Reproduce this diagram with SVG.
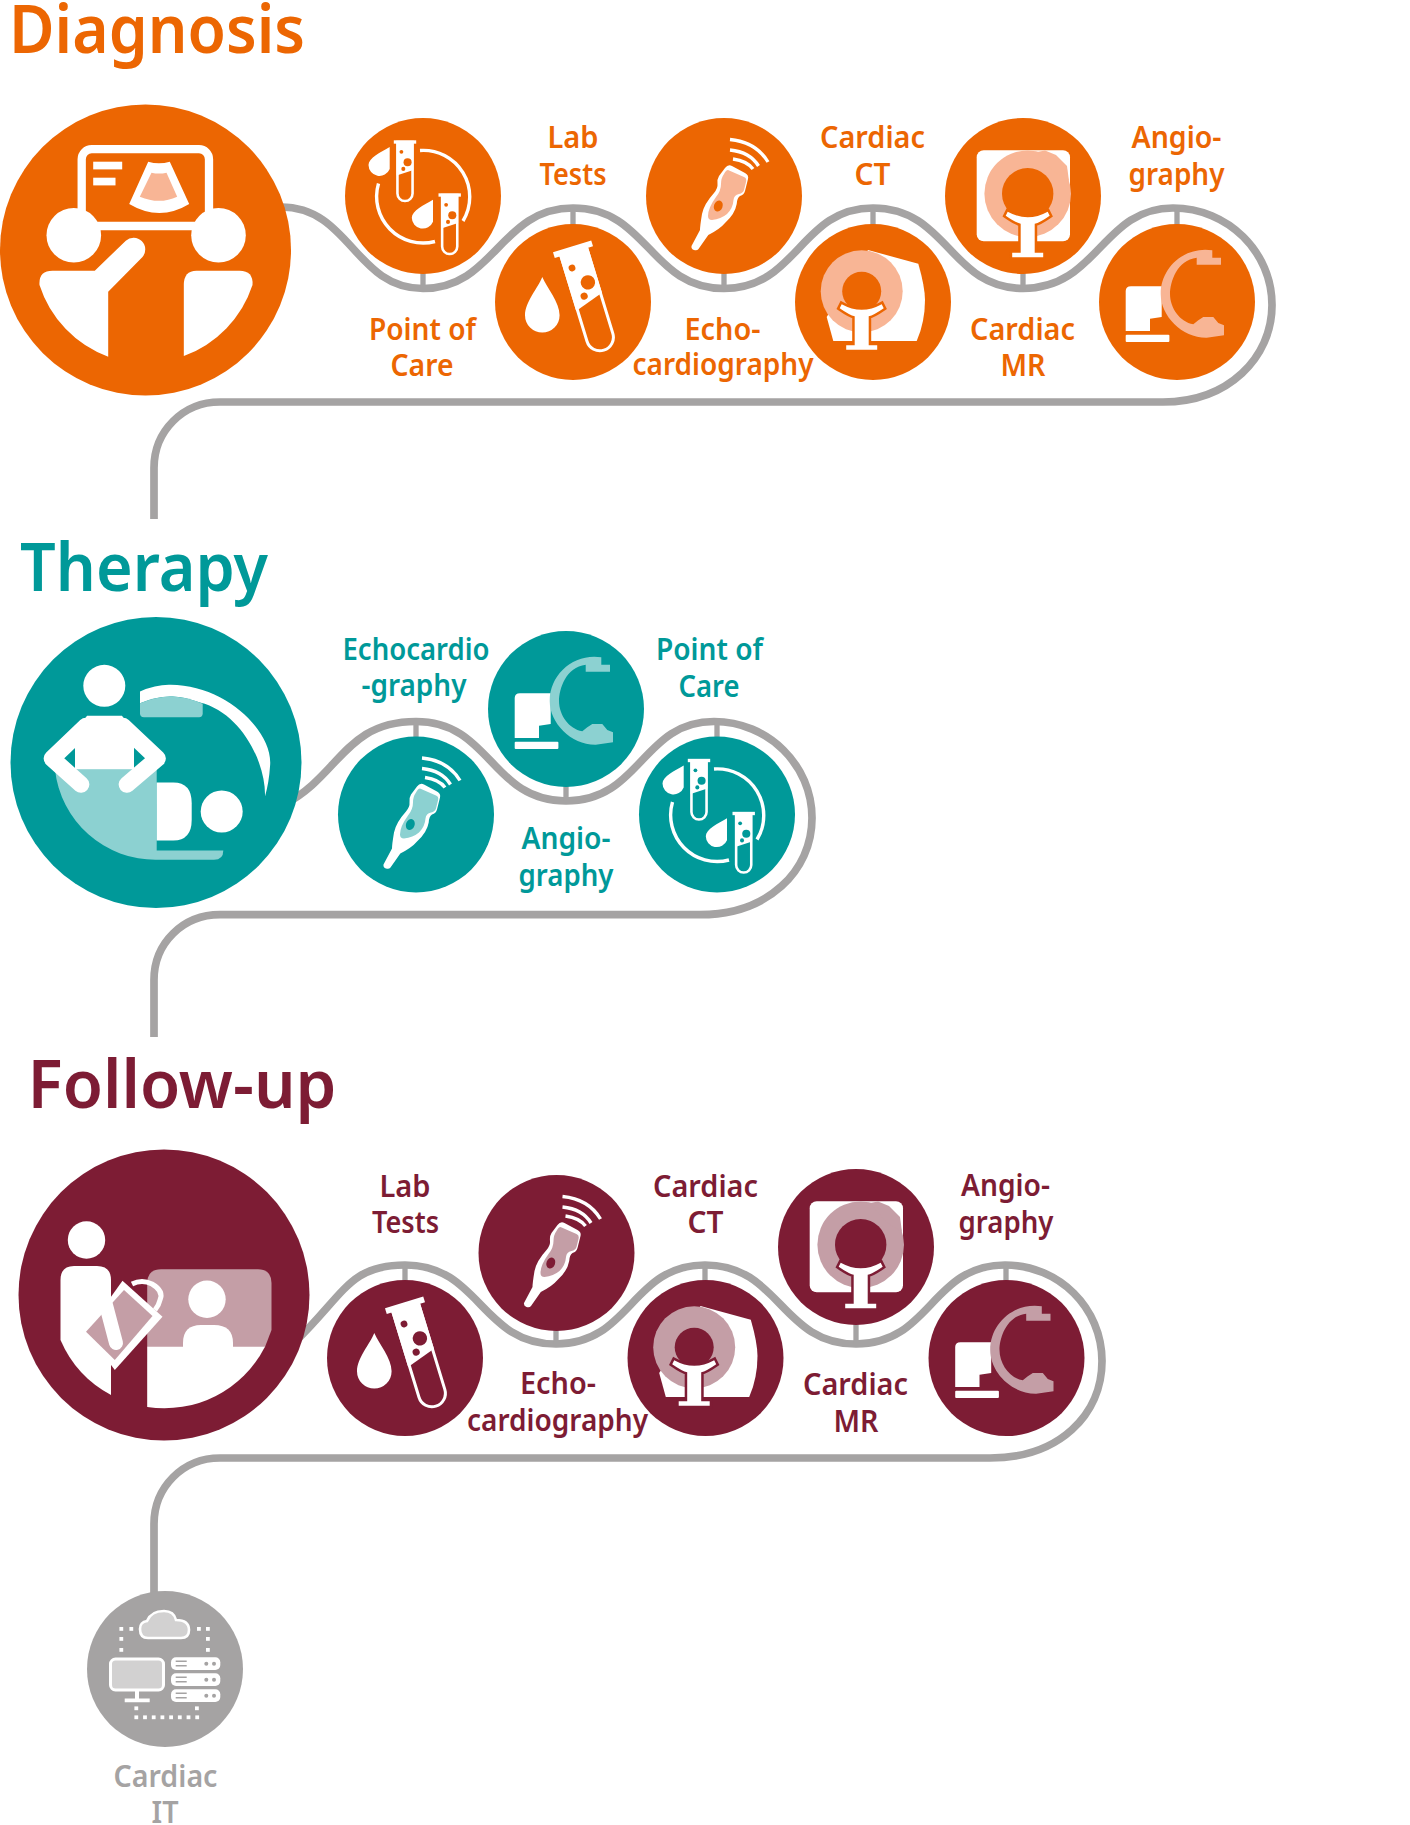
<svg xmlns="http://www.w3.org/2000/svg" width="1410" height="1825" viewBox="0 0 1410 1825">
<style>
text{font-family:"Noto Sans","Open Sans",sans-serif;fill:currentColor;font-weight:600}
.h{font-size:66px}
.l{font-size:30px}
.dx{color:#ec6602;--t:#f8b595}
.th{color:#009999;--t:#8cd1d1}
.fu{color:#7d1c34;--t:#c49ea6}
.it{color:#a5a3a3;--t:#d2d1d1}
.w{fill:#fff}
.c{fill:currentColor}
.t{fill:var(--t)}
.a{fill:none;stroke:#fff;stroke-width:3.4}
.o{fill:currentColor;stroke:#fff;stroke-width:var(--sw,3)}
.s{fill:#fff;stroke:currentColor;stroke-width:5;paint-order:stroke;stroke-linejoin:miter}
#links path{fill:none;stroke:#a5a3a3;stroke-width:7.7}
#links path.k{stroke-width:5.3}
</style>
<defs>
<g id="tube">
<path class="o" d="M-13.5,0V92A13.5,13.5 0 0 0 13.5,92V0Z"/>
<path class="w" d="M-15,0H15V50L-15,60Z"/>
<rect class="w" x="-20" y="-3" width="40" height="6"/>
<circle class="c" cx="-6.4" cy="17.6" r="3.4"/>
<circle class="c" cx="4.6" cy="36" r="7.2"/>
<circle class="c" cx="-3" cy="48" r="3.6"/>
</g>
<path id="hdrop" class="w" d="M-33.3,-49C-42,-44 -54.5,-38 -54.5,-31A11,11 0 0 0 -33.3,-27Z"/>
<g id="i-poc">
<path class="a" d="M-3,-45.5A46.5,46.5 0 0 1 40,25M-44.5,-12.5A46.5,46.5 0 0 0 12,45.5"/>
<use href="#hdrop"/>
<use href="#hdrop" transform="translate(43.3,52.7)"/>
<use href="#tube" transform="translate(-18,-54) scale(.56)" style="--sw:4.6"/>
<use href="#tube" transform="translate(26.7,-1) scale(.56)" style="--sw:4.6"/>
</g>
<g id="i-lab">
<path class="w" d="M-30.7,-25C-26,-14 -13.4,0 -13.4,13.3A17.3,17.3 0 0 1 -48,13.3C-48,0 -35,-14 -30.7,-25Z"/>
<use href="#tube" transform="translate(0,-52.7) rotate(-17)"/>
</g>
<g id="i-echo">
<path class="w" d="M-32.5,50Q-33,53 -30,54Q-27,55 -25.5,53L-15.7,39Q-4,33 1,27Q11,18 12.7,8Q13,2 16,0Q20,-1 21,-5L24,-17Q25,-21 21,-23L8,-30Q4,-32 1,-28L-5,-20Q-7,-17 -6.5,-12Q-6,-8 -10,-3Q-20,8 -22,18Q-24,30 -24,34Z"/>
<path class="t" d="M4,-26L20,-19Q23,-18 22,-14L20,-6Q19,-3 15,-2Q10,-1 9.5,4Q9,12 3,18Q-3,23 -12,24Q-16,24 -16,20Q-16,12 -8,1Q-3,-5 -3,-12Q-3,-18 0,-22Q2,-26 4,-26Z"/>
<ellipse class="c" cx="-5.7" cy="10" rx="4.3" ry="5.7" transform="rotate(20 -5.7 10)"/>
<path class="a" d="M6,-56.5Q32,-54 44,-34M6,-46Q26,-44 34.5,-30M9,-37Q23,-35 29,-27"/>
</g>
<path id="stand" class="s" d="M-20,13Q0,24 20,13L22,17Q12,24 7,25V54H15.5V58.5H-15.5V54H-7V25Q-12,24 -22,17Z"/>
<g id="i-ct">
<path class="w" d="M-5,-52L45.3,-38.3Q52,-15 52,-2Q52,20 43.7,39H-39.7L-46.3,15Z"/>
<circle class="t" cx="-11.3" cy="-10.7" r="41"/>
<circle class="c" cx="-11.3" cy="-10.7" r="19.5"/>
<use href="#stand" transform="translate(-11.3,-10.7)"/>
</g>
<g id="i-mr">
<rect class="w" x="-46.3" y="-45.7" width="93.3" height="91" rx="7"/>
<circle class="t" cx="4.7" cy="-2.3" r="43.3"/>
<path class="t" d="M14,-44L22,-45.5L33,-41L44,-30L46,-15L30,-25Z"/>
<circle class="c" cx="4.7" cy="-2.3" r="25.7"/>
<use href="#stand" transform="translate(4.7,2.7)"/>
</g>
<g id="i-angio">
<path class="w" d="M-51.3,-11Q-51.3,-15.7 -46,-15.7H-15.3V15L-27,16.7V29H-51.3Z"/>
<rect class="w" x="-51.3" y="32.7" width="43.7" height="7.3" rx="1"/>
<path class="t" d="M35.3,-51.7V-44.3H44V-37.3H19.7V-44.3C0,-42 -7,-20 -7,-8C-7,6 3,20 16.3,22.3L21.3,18.3L26.3,15H36.3L41.3,21L47,23.3V33.3L29.7,35.7C5,36 -16.3,14 -16.3,-8C-16.3,-35 8,-56 35.3,-51.7Z"/>
</g>
<g id="sq"><rect class="w" width="3.8" height="3.8"/></g>
<g id="srv">
<rect class="w" x="6" y="0" width="49.3" height="12.7" rx="5"/>
<path d="M10.7,4H21.7M10.7,8.5H21.7" stroke="#a5a3a3" stroke-width="1.5"/>
<circle class="c" cx="41.3" cy="6.5" r="2"/><circle class="c" cx="49" cy="6.5" r="2"/>
</g>
<g id="i-it">
<path class="t" stroke="#fff" stroke-width="2.6" d="M-17,-31Q-25,-31 -25,-40Q-25,-47 -18,-48Q-14,-58 -1,-58Q9,-58 11,-49Q24,-49 24,-39Q24,-31 16,-31Z"/>
<rect class="t" stroke="#fff" stroke-width="3" x="-54.5" y="-10" width="53" height="31" rx="5"/>
<path class="w" d="M-30,22h4v7.5h-4zM-40.3,29.5h25v3.8h-25z"/>
<use href="#srv" y="-11.7"/><use href="#srv" y="4.3"/><use href="#srv" y="20.3"/>
<use href="#sq" x="-45.6" y="-42"/><use href="#sq" x="-35.6" y="-42"/><use href="#sq" x="-45.6" y="-32"/><use href="#sq" x="-45.6" y="-21"/>
<use href="#sq" x="32" y="-42"/><use href="#sq" x="41" y="-42"/><use href="#sq" x="41" y="-32"/><use href="#sq" x="41" y="-21"/>
<use href="#sq" x="-30.6" y="37.4"/><use href="#sq" x="30" y="37.4"/>
<use href="#sq" x="-30.6" y="46.4"/><use href="#sq" x="-21.9" y="46.4"/><use href="#sq" x="-13.2" y="46.4"/><use href="#sq" x="-4.5" y="46.4"/><use href="#sq" x="4.2" y="46.4"/><use href="#sq" x="12.9" y="46.4"/><use href="#sq" x="21.6" y="46.4"/><use href="#sq" x="30.3" y="46.4"/>
</g>
</defs>
<g id="links">
<path d="M281,207C350,207 355,288.5 423,288.5C495,288.5 500,208 573,208C648,208 650,288.5 724,288.5C798,288.5 800,208 873,208C948,208 950,288.5 1023,288.5C1098,288.5 1102,208 1173,208C1228,208 1272,252 1272,305C1272,358 1228,402 1163,402H220C183,402 154,431 154,468V519"/>
<path class="k" d="M423,288V200M573,208V300M724,288V200M873,208V300M1023,288V200M1177,208V300"/>
<path d="M285,804C340,775 345,721.5 416,721.5C491,721.5 491,801 566,801C641,801 642,721.5 714,721.5C768,721.5 812,765 812,818C812,871 768,914.7 700,914.7H220C183,914.7 154,943 154,980V1037"/>
<path class="k" d="M416,722V810M566,801V710M717,722V810"/>
<path d="M296,1341C345,1293 350,1265 405,1265C480,1265 481,1344 556,1344C631,1344 631,1265 705,1265C780,1265 781,1344 856,1344C931,1344 931,1265 1005,1265C1059,1265 1102,1308 1102,1361C1102,1415 1059,1458 990,1458H220C183,1458 154,1487 154,1524V1595"/>
<path class="k" d="M405,1265V1350M556,1344V1250M705,1265V1350M856,1344V1250M1006,1265V1350"/>
</g>
<g id="diagnosis" class="dx">
<text class="h" x="9" y="52.5" textLength="296" lengthAdjust="spacingAndGlyphs">Diagnosis</text>
<g id="dx-main" transform="translate(145.5,250)">
<circle class="c" r="145.5"/>
<rect x="-63.8" y="-100.8" width="127.3" height="76.8" rx="10" fill="none" stroke="#fff" stroke-width="8.3"/>
<circle class="w" cx="-71.7" cy="-14.7" r="27.3"/><circle class="w" cx="73" cy="-14.7" r="27.3"/>
<path class="w" d="M2.7,-88.3Q13.5,-85 24.3,-88.3L43.7,-46Q14,-28 -16.3,-46Z"/>
<path class="t" d="M6,-77.3Q13.5,-75.5 21,-77.3L31.7,-53.3Q14,-45 -5.7,-53.3Z"/>
<rect class="w" x="-52.3" y="-88.3" width="29" height="7.7"/><rect class="w" x="-52.3" y="-72.3" width="22.3" height="7.7"/>
<path class="w" d="M-37.3,106.7V41.7L-3,7A11.7,11.7 0 0 0 -19.7,-9.3L-50.7,20.7H-93Q-107,20.7 -106,35A113,113 0 0 0 -37.3,106.7Z"/>
<path class="w" d="M38.3,106V35Q38.3,20.7 51,20.7H94Q108,20.7 107,35A113,113 0 0 1 38.3,106Z"/>
</g>
<g id="dx-poc"><circle class="c" cx="423" cy="196" r="78"/><use href="#i-poc" x="423" y="196"/>
<text class="l" x="369" y="339.5" textLength="107" lengthAdjust="spacingAndGlyphs">Point of</text><text class="l" x="390.5" y="376" textLength="63" lengthAdjust="spacingAndGlyphs">Care</text></g>
<g id="dx-lab"><circle class="c" cx="573" cy="302" r="78"/><use href="#i-lab" x="573" y="302"/>
<text class="l" x="547.5" y="148" textLength="51" lengthAdjust="spacingAndGlyphs">Lab</text><text class="l" x="539.5" y="185" textLength="67" lengthAdjust="spacingAndGlyphs">Tests</text></g>
<g id="dx-echo"><circle class="c" cx="724" cy="196" r="78"/><use href="#i-echo" x="724" y="196"/>
<text class="l" x="684.5" y="339.5" textLength="76" lengthAdjust="spacingAndGlyphs">Echo-</text><text class="l" x="632.5" y="375" textLength="181" lengthAdjust="spacingAndGlyphs">cardiography</text></g>
<g id="dx-ct"><circle class="c" cx="873" cy="302" r="78"/><use href="#i-ct" x="873" y="302"/>
<text class="l" x="820" y="148" textLength="105" lengthAdjust="spacingAndGlyphs">Cardiac</text><text class="l" x="854.5" y="185" textLength="36" lengthAdjust="spacingAndGlyphs">CT</text></g>
<g id="dx-mr"><circle class="c" cx="1023" cy="196" r="78"/><use href="#i-mr" x="1023" y="196"/>
<text class="l" x="970" y="339.5" textLength="105" lengthAdjust="spacingAndGlyphs">Cardiac</text><text class="l" x="1000.5" y="376" textLength="45" lengthAdjust="spacingAndGlyphs">MR</text></g>
<g id="dx-angio"><circle class="c" cx="1177" cy="302" r="78"/><use href="#i-angio" x="1177" y="302"/>
<text class="l" x="1131.5" y="148" textLength="90" lengthAdjust="spacingAndGlyphs">Angio-</text><text class="l" x="1128.5" y="185" textLength="96" lengthAdjust="spacingAndGlyphs">graphy</text></g>
</g>
<g id="therapy" class="th">
<text class="h" x="20" y="590.7" textLength="248" lengthAdjust="spacingAndGlyphs">Therapy</text>
<g id="th-main" transform="translate(156,762.5)">
<circle class="c" r="145.5"/>
<path class="w" d="M-16,-71Q0,-78 14,-77.7C70,-78 118,-30 114,4Q113,20 109,34C110,0 85,-50 44,-60Q25,-67 14,-66Q0,-66 -16,-59.3Z"/>
<path class="t" d="M-16,-59.3Q0,-66 14,-66Q30,-66 46.7,-58.7V-49Q46.7,-45.3 43,-45.3H-12Q-16,-45.3 -16,-49Z"/>
<circle class="w" cx="-51.7" cy="-76.7" r="21"/>
<path class="t" d="M-101,7H.7V88H67.3Q67.3,97.3 58,97.3H.7A101,101 0 0 1 -101,7Z"/>
<path class="w" d="M-69,-46.7H-34L-22,-30V7H-81V-30Z"/>
<path d="M-70,-36.5L-104,-4L-75,22M-33,-36.5L1.5,-4L-29,22" fill="none" stroke="#fff" stroke-width="16.7" stroke-linecap="round" stroke-linejoin="round"/>
<path class="w" d="M.7,20H17.3Q35.7,20 35.7,40.7V57.3Q35.7,78 17.3,78H.7Z"/>
<circle class="w" cx="65.7" cy="49" r="21"/>
</g>
<g id="th-echo"><circle class="c" cx="416" cy="814.5" r="78"/><use href="#i-echo" x="416" y="814.5"/>
<text class="l" x="342.5" y="660" textLength="147" lengthAdjust="spacingAndGlyphs">Echocardio</text><text class="l" x="361.5" y="695.5" textLength="105" lengthAdjust="spacingAndGlyphs">-graphy</text></g>
<g id="th-angio"><circle class="c" cx="566" cy="709" r="78"/><use href="#i-angio" x="566" y="709"/>
<text class="l" x="521.5" y="849" textLength="89" lengthAdjust="spacingAndGlyphs">Angio-</text><text class="l" x="518.5" y="885.5" textLength="95" lengthAdjust="spacingAndGlyphs">graphy</text></g>
<g id="th-poc"><circle class="c" cx="717" cy="814.5" r="78"/><use href="#i-poc" x="717" y="814.5"/>
<text class="l" x="656" y="660" textLength="107" lengthAdjust="spacingAndGlyphs">Point of</text><text class="l" x="678.5" y="697" textLength="61" lengthAdjust="spacingAndGlyphs">Care</text></g>
</g>
<g id="follow-up" class="fu">
<text class="h" x="27.5" y="1108" textLength="309" lengthAdjust="spacingAndGlyphs">Follow-up</text>
<g id="fu-main" transform="translate(164,1295)">
<circle class="c" r="145.5"/>
<path class="t" d="M-16.8,-12Q-16.8,-25.7 -3,-25.7H94Q107.5,-25.7 107.5,-12V35L101,52H-16.8Z"/>
<path class="w" d="M-16.8,51.7H101A113,113 0 0 1 -16.8,112Z"/>
<circle class="w" cx="43" cy="4.3" r="18.7"/>
<path class="w" d="M19,52V48Q19,30 37,30H50Q69,30 69,48V52Z"/>
<circle class="w" cx="-77.5" cy="-55" r="18.7"/>
<path class="w" d="M-103.5,45V-15Q-103.5,-29 -90,-29H-67Q-53,-29 -53,-15V100A113,113 0 0 1 -103.5,45Z"/>
<path class="w" d="M-41.5,-14.3L-1.5,21.7L-49.2,75L-78,36.7Z"/>
<path class="t" d="M-40,-5L-11.5,21L-49.2,65L-78,36.7Z"/>
<path d="M-58,10L-48,48" stroke="#fff" stroke-width="14" stroke-linecap="round"/>
<path d="M-32,-11Q-22,-16 -12,-11Q0,-4 -4,5Q-5,10 -9,15" fill="none" stroke="#fff" stroke-width="5"/>
</g>
<g id="fu-lab"><circle class="c" cx="405" cy="1358" r="78"/><use href="#i-lab" x="405" y="1358"/>
<text class="l" x="379.5" y="1196.7" textLength="51" lengthAdjust="spacingAndGlyphs">Lab</text><text class="l" x="372" y="1233" textLength="67" lengthAdjust="spacingAndGlyphs">Tests</text></g>
<g id="fu-echo"><circle class="c" cx="556.5" cy="1253" r="78"/><use href="#i-echo" x="556.5" y="1253"/>
<text class="l" x="520" y="1394" textLength="76" lengthAdjust="spacingAndGlyphs">Echo-</text><text class="l" x="467" y="1431" textLength="181" lengthAdjust="spacingAndGlyphs">cardiography</text></g>
<g id="fu-ct"><circle class="c" cx="705.5" cy="1358" r="78"/><use href="#i-ct" x="705.5" y="1358"/>
<text class="l" x="653" y="1197" textLength="105" lengthAdjust="spacingAndGlyphs">Cardiac</text><text class="l" x="687.5" y="1233" textLength="36" lengthAdjust="spacingAndGlyphs">CT</text></g>
<g id="fu-mr"><circle class="c" cx="856" cy="1247" r="78"/><use href="#i-mr" x="856" y="1247"/>
<text class="l" x="803" y="1395" textLength="105" lengthAdjust="spacingAndGlyphs">Cardiac</text><text class="l" x="833.5" y="1431.5" textLength="45" lengthAdjust="spacingAndGlyphs">MR</text></g>
<g id="fu-angio"><circle class="c" cx="1006.5" cy="1358" r="78"/><use href="#i-angio" x="1006.5" y="1358"/>
<text class="l" x="961" y="1195.7" textLength="89" lengthAdjust="spacingAndGlyphs">Angio-</text><text class="l" x="958.5" y="1232.7" textLength="95" lengthAdjust="spacingAndGlyphs">graphy</text></g>
</g>
<g id="cardiac-it" class="it"><circle class="c" cx="165" cy="1669" r="78"/><use href="#i-it" x="165" y="1669"/>
<text class="l" x="113.5" y="1787" textLength="104" lengthAdjust="spacingAndGlyphs">Cardiac</text><text class="l" x="151.5" y="1823" textLength="27" lengthAdjust="spacingAndGlyphs">IT</text></g>
</svg>
